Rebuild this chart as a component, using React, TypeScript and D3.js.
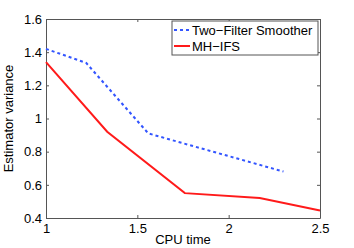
import React, { useEffect, useRef } from "react";
import * as d3 from "d3";

const smootherTime = [1, 1.22, 1.56, 2.3];
const smootherVar = [1.42, 1.335, 0.91, 0.68];
const ifsTime = [1, 1.335, 1.76, 2.17, 2.5];
const ifsVar = [1.34, 0.92, 0.55, 0.52, 0.445];
const xTicks = [1, 1.5, 2, 2.5];
const yTicks = [0.4, 0.6, 0.8, 1, 1.2, 1.4, 1.6];

const App: React.FC = () => {
  const svgRef = useRef<SVGSVGElement | null>(null);

  useEffect(() => {
    const width = 354;
    const height = 248;
    const margin = { top: 19, right: 34, bottom: 30, left: 46 };
    const font = "'Liberation Sans', Arial, sans-serif";

    d3.select(svgRef.current).selectAll("*").remove();
    const svg = d3
      .select(svgRef.current)
      .attr("width", width)
      .attr("height", height)
      .style("position", "absolute")
      .style("left", 0)
      .style("top", 0)
      .style("background", "#fff");

    const x = d3.scaleLinear().domain([1, 2.5]).range([margin.left, width - margin.right]);
    const y = d3.scaleLinear().domain([0.4, 1.6]).range([height - margin.bottom, margin.top]);

    const axisColor = "#555";
    const styleAxis = (g: any) => {
      g.select(".domain").attr("stroke", axisColor);
      g.selectAll(".tick line").attr("stroke", axisColor);
      g.selectAll("text").attr("fill", "#000").style("font-family", font).style("font-size", "13px");
    };

    // bottom and top
    svg
      .append("g")
      .attr("transform", `translate(0,${height - margin.bottom})`)
      .call(d3.axisBottom(x).tickValues(xTicks).tickSize(-3).tickPadding(6).tickSizeOuter(0).tickFormat(d3.format("")))
      .call(styleAxis);
    svg
      .append("g")
      .attr("transform", `translate(0,${margin.top})`)
      .call(d3.axisTop(x).tickValues(xTicks).tickSize(-3).tickSizeOuter(0).tickFormat(() => ""))
      .call(styleAxis);
    // left and right
    svg
      .append("g")
      .attr("transform", `translate(${margin.left},0)`)
      .call(d3.axisLeft(y).tickValues(yTicks).tickSize(-3).tickPadding(4).tickSizeOuter(0).tickFormat(d3.format("")))
      .call(styleAxis);
    svg
      .append("g")
      .attr("transform", `translate(${width - margin.right},0)`)
      .call(d3.axisRight(y).tickValues(yTicks).tickSize(-3).tickSizeOuter(0).tickFormat(() => ""))
      .call(styleAxis);

    const line = d3
      .line<[number, number]>()
      .x((d) => x(d[0]))
      .y((d) => y(d[1]));

    svg
      .append("path")
      .attr("d", line(smootherTime.map((t, i) => [t, smootherVar[i]]) as [number, number][]))
      .attr("fill", "none")
      .attr("stroke", "#3355ff")
      .attr("stroke-width", 2)
      .attr("stroke-dasharray", "3,3");

    svg
      .append("path")
      .attr("d", line(ifsTime.map((t, i) => [t, ifsVar[i]]) as [number, number][]))
      .attr("fill", "none")
      .attr("stroke", "#ff1a1a")
      .attr("stroke-width", 2);

    // axis labels
    svg
      .append("text")
      .attr("x", (margin.left + width - margin.right) / 2)
      .attr("y", height - 4)
      .attr("text-anchor", "middle")
      .style("font-family", font)
      .style("font-size", "13px")
      .text("CPU time");
    svg
      .append("text")
      .attr("transform", `translate(13,${(margin.top + height - margin.bottom) / 2}) rotate(-90)`)
      .attr("text-anchor", "middle")
      .style("font-family", font)
      .style("font-size", "13px")
      .text("Estimator variance");

    // legend
    const leg = svg.append("g").attr("transform", "translate(172,21)");
    leg
      .append("rect")
      .attr("width", 146)
      .attr("height", 34)
      .attr("fill", "#fff")
      .attr("stroke", axisColor);
    const items = [
      { label: "Two\u2212Filter Smoother", color: "#3355ff", dash: "3,3" },
      { label: "MH\u2212IFS", color: "#ff1a1a", dash: null },
    ];
    items.forEach((it, i) => {
      const yy = 9 + i * 16;
      leg
        .append("line")
        .attr("x1", 2)
        .attr("x2", 18)
        .attr("y1", yy)
        .attr("y2", yy)
        .attr("stroke", it.color)
        .attr("stroke-width", 2)
        .attr("stroke-dasharray", it.dash);
      leg
        .append("text")
        .attr("x", 20)
        .attr("y", yy + 4.5)
        .style("font-family", font)
        .style("font-size", "13px")
        .text(it.label);
    });
  }, []);

  return <svg ref={svgRef}></svg>;
};

export default App;
